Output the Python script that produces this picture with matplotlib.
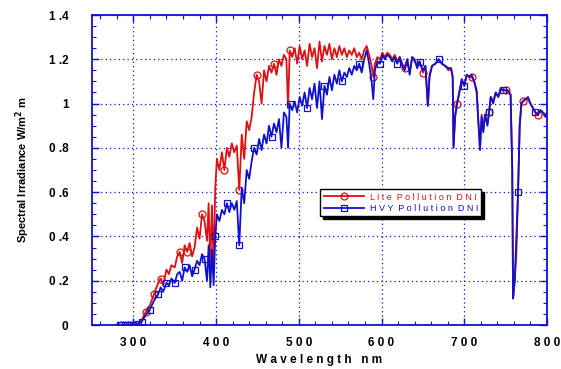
import numpy as np
import matplotlib
matplotlib.use("Agg")
import matplotlib.pyplot as plt
from matplotlib.ticker import MultipleLocator

plt.rcParams['font.family'] = ['Liberation Sans', 'DejaVu Sans']

# wavelength (nm)
wl = [280, 285, 290, 295, 300, 305, 310, 315, 320, 325, 330, 333, 336, 340, 343, 346,
      350, 353, 356, 359, 362, 365, 368, 371, 374, 377, 380, 383, 386, 389, 391, 393,
      395, 397, 399, 401, 404, 407, 410, 413, 416, 419, 422, 425, 428, 431, 434, 437,
      440, 443, 446, 449, 452, 455, 458, 461, 464, 467, 470, 473, 476, 479, 482, 485,
      487, 489, 492, 495, 498, 501, 504, 507, 510, 513, 516, 519, 522, 525, 528, 531,
      534, 537, 540, 543, 546, 549, 552, 555, 558, 561, 564, 567, 570, 573, 576, 579,
      582, 585, 588, 590, 592, 595, 598, 601, 604, 607, 610, 613, 616, 619, 622, 625,
      628, 631, 634, 637, 640, 643, 646, 650, 653, 656, 658, 661, 665, 669, 673, 677,
      681, 684, 686, 687, 689, 691, 694, 697, 700, 703, 706, 709, 712, 715, 717, 719,
      721, 723, 725, 728, 730, 732, 735, 738, 741, 744, 747, 750, 753, 756, 758, 759,
      761, 763, 765, 767, 769, 771, 774, 777, 780, 783, 786, 789, 792, 795, 798, 800]

lite = [0, 0, 0, 0.001, 0.002, 0.005, 0.02, 0.06, 0.09, 0.14, 0.19, 0.21, 0.18, 0.25, 0.23, 0.27,
        0.26, 0.31, 0.33, 0.28, 0.36, 0.33, 0.37, 0.31, 0.35, 0.44, 0.39, 0.50, 0.47, 0.38, 0.55, 0.26,
        0.54, 0.27, 0.62, 0.75, 0.70, 0.78, 0.70, 0.80, 0.76, 0.82, 0.78, 0.81, 0.61, 0.86, 0.75, 0.92,
        0.88, 0.94, 1.05, 1.13, 1.10, 1.00, 1.15, 1.10, 1.17, 1.14, 1.18, 1.13, 1.20, 1.17, 1.22, 1.20,
        0.98, 1.24, 1.21, 1.25, 1.18, 1.26, 1.20, 1.24, 1.17, 1.27, 1.21, 1.25, 1.16, 1.28, 1.19, 1.26,
        1.22, 1.27, 1.20, 1.25, 1.21, 1.26, 1.22, 1.25, 1.21, 1.24, 1.22, 1.25, 1.21, 1.23, 1.20, 1.24,
        1.26, 1.22, 1.17, 1.12, 1.18, 1.21, 1.20, 1.23, 1.21, 1.23, 1.22, 1.20, 1.22, 1.19, 1.21, 1.18,
        1.16, 1.20, 1.14, 1.21, 1.19, 1.17, 1.19, 1.14, 1.17, 0.99, 1.13, 1.17, 1.18, 1.20, 1.18, 1.17,
        1.15, 1.16, 1.12, 0.81, 0.95, 1.00, 1.05, 1.11, 1.08, 1.13, 1.12, 1.12, 1.10, 1.06, 0.92, 0.80,
        0.95, 0.88, 0.95, 0.91, 0.96, 1.03, 1.01, 1.05, 1.03, 1.06, 1.06, 1.06, 1.05, 1.04, 0.70, 0.12,
        0.20, 0.33, 0.60, 0.90, 1.00, 1.01, 1.02, 1.02, 1.00, 0.98, 0.96, 0.95, 0.97, 0.96, 0.95, 0.96]

hvy = [0, 0, 0, 0, 0.001, 0.003, 0.015, 0.045, 0.07, 0.11, 0.14, 0.17, 0.15, 0.19, 0.18, 0.21,
       0.19, 0.23, 0.24, 0.20, 0.26, 0.24, 0.27, 0.22, 0.25, 0.29, 0.27, 0.32, 0.30, 0.20, 0.36, 0.17,
       0.34, 0.18, 0.40, 0.50, 0.47, 0.52, 0.50, 0.55, 0.51, 0.55, 0.52, 0.56, 0.36, 0.62, 0.55, 0.70,
       0.66, 0.74, 0.80, 0.77, 0.84, 0.79, 0.86, 0.82, 0.90, 0.85, 0.91, 0.87, 0.93, 0.80, 0.96, 0.94,
       0.80, 1.00, 0.97, 1.01, 0.96, 1.03, 0.99, 1.05, 0.98, 1.07, 1.02, 1.09, 0.98, 1.10, 0.93, 1.08,
       1.04, 1.12, 1.06, 1.13, 1.09, 1.15, 1.10, 1.14, 1.12, 1.16, 1.13, 1.17, 1.15, 1.18, 1.14, 1.20,
       1.24, 1.18, 1.10, 1.02, 1.15, 1.19, 1.18, 1.22, 1.20, 1.22, 1.21, 1.19, 1.21, 1.18, 1.21, 1.17,
       1.15, 1.20, 1.13, 1.21, 1.20, 1.16, 1.19, 1.15, 1.17, 0.99, 1.12, 1.17, 1.18, 1.20, 1.18, 1.17,
       1.16, 1.16, 1.12, 0.80, 0.94, 0.99, 1.05, 1.11, 1.08, 1.13, 1.12, 1.13, 1.10, 1.05, 0.92, 0.79,
       0.94, 0.87, 0.95, 0.90, 0.96, 1.03, 1.00, 1.05, 1.03, 1.07, 1.06, 1.06, 1.06, 1.04, 0.70, 0.12,
       0.20, 0.40, 0.60, 0.90, 1.00, 1.01, 1.02, 1.03, 1.00, 0.98, 0.96, 0.95, 0.97, 0.96, 0.94, 0.96]

# where the sparse markers sit
lite_marks = [285, 290, 295, 300, 315, 325, 333, 356, 365, 383, 410, 428, 449, 470, 489,
              590, 628, 650, 691, 709, 730, 750, 771, 789]
hvy_marks = [285, 290, 295, 300, 305, 310, 320, 330, 340, 350, 362, 374, 386, 399, 413,
             428, 446, 467, 489, 510, 531, 552, 573, 598, 619, 646, 669, 700, 730, 747, 765, 786]

red = '#e01010'
blue = '#1010d0'

fig = plt.figure(figsize=(5.61, 3.69), dpi=100)
ax = fig.add_axes([92 / 561, 1 - 325 / 369, 455 / 561, 310 / 369])

ax.plot(wl, lite, color=red, lw=1.3, marker='o', ms=5, mfc='none', mec=red, mew=0.9,
        markevery=[wl.index(m) for m in lite_marks], label='L i t e  P o l l u t i o n  D N I')
ax.plot(wl, hvy, color=blue, lw=1.3, marker='s', ms=4, mfc='none', mec=blue, mew=0.9,
        markevery=[wl.index(m) for m in hvy_marks], label='H V Y  P o l l u t i o n  D N I')

ax.set_xlim(250, 800)
ax.set_ylim(0, 1.4)

xt = [300, 400, 500, 600, 700, 800]
ax.set_xticks(xt)
ax.set_xticklabels([' '.join(str(v)) for v in xt])
yt = [0, 0.2, 0.4, 0.6, 0.8, 1.0, 1.2, 1.4]
ylab = ['0', '0 .2', '0 .4', '0 .6', '0 .8', '1', '1 .2', '1 .4']
ax.set_yticks(yt)
ax.set_yticklabels(ylab)
ax.xaxis.set_minor_locator(MultipleLocator(20))
ax.yaxis.set_minor_locator(MultipleLocator(0.05))

ax.tick_params(which='both', direction='in', top=True, right=True, color=blue)
ax.tick_params(which='major', length=5, width=1, labelsize=8.5)
ax.tick_params(axis='x', which='major', pad=9)
ax.tick_params(axis='y', which='major', pad=17)
ax.tick_params(which='minor', length=3, width=0.8)
for lab in ax.get_xticklabels() + ax.get_yticklabels():
    lab.set_fontweight('bold')
for s in ax.spines.values():
    s.set_color(blue)
    s.set_linewidth(1.3)

ax.grid(True, which='major', color=blue, ls=(0, (1, 2.5)), lw=0.9)

ax.set_xlabel('W a v e l e n g t h   n m', fontsize=8.5, fontweight='bold', labelpad=3)
ax.set_ylabel('Spectral Irradiance W/m$^{\\mathbf{2}}$ m', fontsize=8, fontweight='bold', labelpad=12)

leg = ax.legend(loc='upper left', bbox_to_anchor=(0.492, 0.452), fontsize=6.5, frameon=True,
                fancybox=False, shadow={'color': 'black', 'alpha': 1}, edgecolor='black',
                handlelength=4.5, borderpad=0.35, labelspacing=0.25, handletextpad=0.6)
leg.get_frame().set_linewidth(1.0)
for t, c in zip(leg.get_texts(), [red, blue]):
    t.set_color(c)

fig.savefig('out.png', dpi=100)
